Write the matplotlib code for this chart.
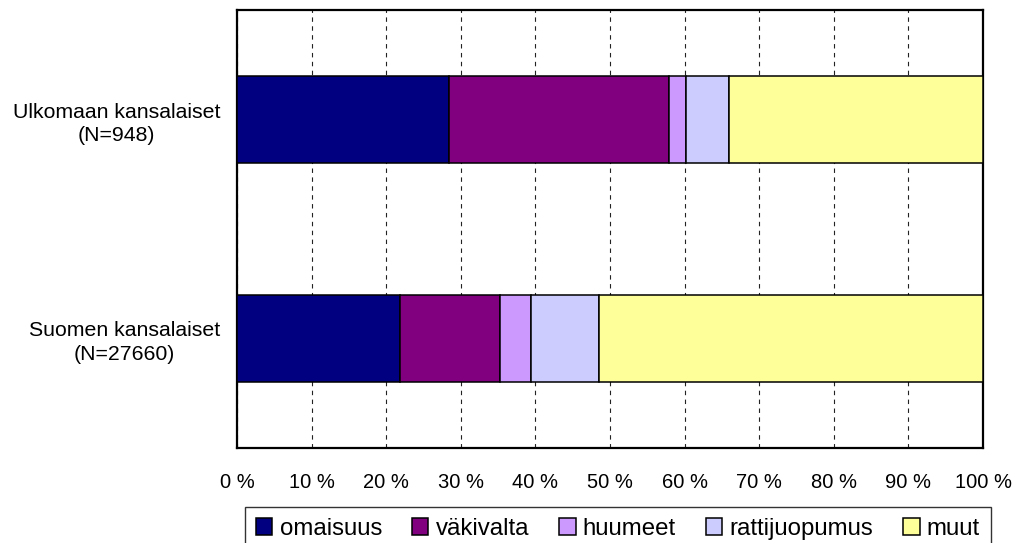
import matplotlib
matplotlib.use("Agg")
import matplotlib.pyplot as plt
import numpy as np

plt.rcParams['font.family'] = ['Liberation Sans', 'DejaVu Sans']

categories = ["Ulkomaan kansalaiset\n(N=948)", "Suomen kansalaiset\n(N=27660)"]
series_names = ["omaisuus", "väkivalta", "huumeet", "rattijuopumus", "muut"]
omaisuus = [28.4, 21.9]
vakivalta = [29.5, 13.4]
huumeet = [2.3, 4.1]
rattijuopumus = [5.8, 9.1]
muut = [34.0, 51.5]
colors = ["#000080", "#800080", "#CC99FF", "#CCCCFF", "#FFFF99"]
xticks = [0, 10, 20, 30, 40, 50, 60, 70, 80, 90, 100]
xticklabels = [f"{v} %" for v in xticks]

data = [omaisuus, vakivalta, huumeet, rattijuopumus, muut]

fig = plt.figure(figsize=(10.16, 5.43), dpi=100)
ax = fig.add_axes([237/1016, 1-448/543, (983-237)/1016, (448-10)/543])

y = np.arange(len(categories))
left = np.zeros(len(categories))
for vals, name, col in zip(data, series_names, colors):
    ax.barh(y, vals, left=left, height=0.4, color=col, edgecolor='black',
            linewidth=1.1, label=name, zorder=3)
    left += np.array(vals)

ax.set_xlim(0, 100)
ax.set_ylim(1.5, -0.5)
ax.set_xticks(xticks)
ax.set_xticklabels(xticklabels, fontsize=14.5)
ax.set_yticks(y)
ax.set_yticklabels(categories, fontsize=15.3, multialignment='center',
                   linespacing=1.3)
ax.tick_params(axis='x', length=0, pad=18)
ax.tick_params(axis='y', length=0, pad=12)
ax.xaxis.grid(True, color='#222222', linestyle=(0, (4, 4)), linewidth=0.8, zorder=0)
ax.set_axisbelow(True)
for s in ax.spines.values():
    s.set_linewidth(1.6)
    s.set_color('black')

leg = fig.legend(loc='upper center', bbox_to_anchor=(618/1016, 1-507/543),
                 ncol=5, fontsize=17.3, frameon=True, fancybox=False,
                 edgecolor='black', handlelength=0.68, handleheight=0.68,
                 handletextpad=0.3, columnspacing=1.25, borderpad=0.45,
                 borderaxespad=0)
leg.get_frame().set_linewidth(1.0)

fig.savefig("out.png", dpi=100)
